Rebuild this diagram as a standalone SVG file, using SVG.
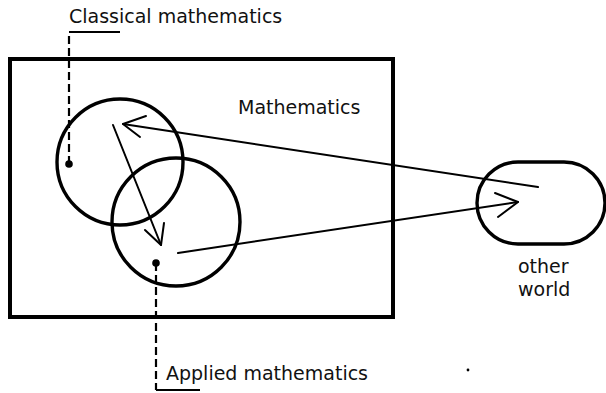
<svg xmlns="http://www.w3.org/2000/svg" width="606" height="393" viewBox="0 0 606 393">
<style>
.t{font-family:"DejaVu Sans","Verdana",sans-serif;font-size:19px;fill:#111}
.shape{fill:none;stroke:#000;stroke-width:3.4}
.lead{fill:none;stroke:#000;stroke-width:2.2;stroke-dasharray:8 4}
.edge{fill:none;stroke:#000;stroke-width:2;stroke-linecap:round;stroke-linejoin:round}
</style>
<rect width="606" height="393" fill="#fff"/>
<g id="mathematics">
<rect x="10" y="59" width="383" height="258" fill="none" stroke="#000" stroke-width="4"/>
<text class="t" x="238" y="114">Mathematics</text>
</g>
<g id="classical">
<circle class="shape" cx="120" cy="162" r="63"/>
<circle cx="69" cy="164" r="3.8" fill="#000"/>
<path class="lead" d="M69,164 V32"/>
<path d="M69,32 H120" stroke="#000" stroke-width="2" fill="none"/>
<text class="t" x="69" y="23">Classical mathematics</text>
</g>
<g id="applied">
<circle class="shape" cx="176" cy="222" r="64"/>
<circle cx="156" cy="263" r="3.8" fill="#000"/>
<path class="lead" d="M156,263 V390"/>
<path d="M156,390 H200" stroke="#000" stroke-width="2" fill="none"/>
<text class="t" x="166" y="380">Applied mathematics</text>
</g>
<g id="other-world">
<rect class="shape" x="477" y="162" width="128" height="82" rx="41" ry="41"/>
<text class="t" x="518" y="273">other</text>
<text class="t" x="518" y="296">world</text>
</g>
<g id="connectors">
<path class="edge" d="M538,187 L123,124"/>
<path class="edge" d="M146,116 L123,124 L140,137"/>
<path class="edge" d="M113,125 L161,245"/>
<path class="edge" d="M145,230 L161,245 L164,223"/>
<path class="edge" d="M178,253 L518,202"/>
<path class="edge" d="M495,193 L518,202 L498,217"/>
</g>
<circle cx="468" cy="370" r="1.4" fill="#000"/>
</svg>
